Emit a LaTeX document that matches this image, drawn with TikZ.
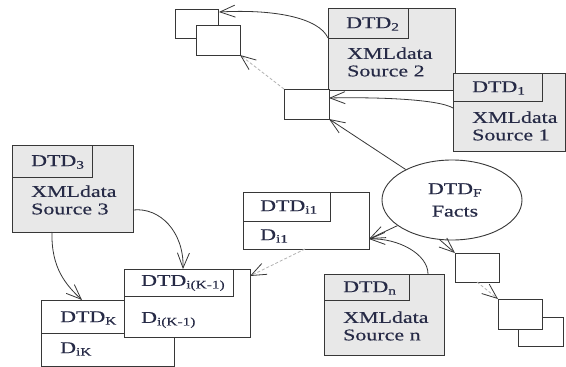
\documentclass[tikz,border=0pt]{standalone}
\usepackage{fontspec}
\setmainfont{Liberation Serif}[FakeStretch=1.33,FakeBold=0.35]
\usetikzlibrary{arrows.meta,shapes.geometric,calc}
\definecolor{linec}{RGB}{55,55,55}
\definecolor{srcfill}{RGB}{232,232,232}
\definecolor{inkc}{RGB}{38,42,70}
\definecolor{faint}{RGB}{178,178,178}
\newcommand\dsub[1]{\textsubscript{#1}}

\begin{document}
\begin{tikzpicture}[x=1pt,y=-1pt,
  frame/.style={draw=linec, line width=0.9pt, fill=white, anchor=north west,
                inner sep=0pt, outer sep=0pt},
  srcframe/.style={frame, fill=srcfill},
  txt/.style={text=inkc, anchor=west, inner sep=0pt, align=left,
              font=\fontsize{16.5}{17.5}\selectfont},
  tip/.style={-{Straight Barb[length=15pt,width=12pt,line width=0.8pt,color=linec]}},
  link/.style={draw=linec, line width=0.8pt, tip},
  faintlink/.style={draw=faint, line width=0.8pt, dash pattern=on 3pt off 2pt, tip},
]
\useasboundingbox (0,0) rectangle (566,367);
\fill[white] (0,0) rectangle (566,367);

% small stacked boxes, top left
\node[frame, minimum width=43pt, minimum height=29pt] (a) at (175,9) {};
\node[frame, minimum width=44pt, minimum height=30pt] (b) at (196,25) {};

% source 2
\node[srcframe, minimum width=127pt, minimum height=82pt] (s2) at (328,8) {};
\node[srcframe, minimum width=80pt, minimum height=30pt] (s2h) at (s2.north west) {};
\node[txt] (s2t) at (346,24) {DTD\dsub{2}};
\node[txt] (s2b) at (347,62) {XMLdata\\Source 2};

% intermediate box below source 2
\node[frame, minimum width=45pt, minimum height=30pt] (m) at (284,89) {};

% source 1
\node[srcframe, minimum width=112pt, minimum height=78pt] (s1) at (453,73) {};
\node[srcframe, minimum width=89pt, minimum height=28pt] (s1h) at (s1.north west) {};
\node[txt] (s1t) at (472,88) {DTD\dsub{1}};
\node[txt] (s1b) at (472,126) {XMLdata\\Source 1};

% source 3
\node[srcframe, minimum width=121pt, minimum height=87pt] (s3) at (12,145) {};
\node[srcframe, minimum width=80pt, minimum height=32pt] (s3h) at (s3.north west) {};
\node[txt] (s3t) at (31,162) {DTD\dsub{3}};
\node[txt] (s3b) at (31,200) {XMLdata\\Source 3};

% DTD i1
\node[frame, minimum width=126pt, minimum height=57pt] (i1) at (243,192) {};
\node[frame, minimum width=87pt, minimum height=29pt] (i1h) at (i1.north west) {};
\node[txt] (i1t) at (260,207) {DTD\dsub{i1}};
\node[txt] (i1b) at (260,236) {D\dsub{i1}};

% DTD K
\node[frame, minimum width=133pt, minimum height=66pt] (k) at (41,300) {};
\node[frame, minimum width=133pt, minimum height=33pt] (kh) at (k.north west) {};
\node[txt] (kt) at (60,318) {DTD\dsub{K}};
\node[txt] (kb) at (60,349) {D\dsub{iK}};

% DTD i(K-1)
\node[frame, minimum width=126pt, minimum height=68pt] (k1) at (124,269) {};
\node[frame, minimum width=109pt, minimum height=27pt] (k1h) at (k1.north west) {};
\node[txt] (k1t) at (141,283) {DTD\dsub{i(K-1)}};
\node[txt] (k1b) at (141,320) {D\dsub{i(K-1)}};

% source n
\node[srcframe, minimum width=120pt, minimum height=81pt] (sn) at (324,274) {};
\node[srcframe, minimum width=85pt, minimum height=26pt] (snh) at (sn.north west) {};
\node[txt] (snt) at (343,288) {DTD\dsub{n}};
\node[txt] (snb) at (343,326) {XMLdata\\Source n};

% facts
\node[ellipse, draw=linec, line width=0.9pt, fill=white, minimum width=140pt,
      minimum height=80pt, inner sep=0pt, text=inkc, align=center,
      font=\fontsize{16.5}{17.5}\selectfont] (ell) at (452,200)
      {\hspace*{6pt}DTD\dsub{F}\\[5pt]\hspace*{6pt}Facts};

% small stacked boxes, bottom right
\node[frame, minimum width=44pt, minimum height=29pt] (c) at (455,253) {};
\node[frame, minimum width=45pt, minimum height=29pt] (e) at (518,317) {};
\node[frame, minimum width=44pt, minimum height=30pt] (d) at (498,299) {};

% connector end points
\coordinate (aend) at ($(a.north east)+(1,3)$);
\coordinate (s1out) at ($(s1.north west)+(0,35)$);
\coordinate (min) at ($(m.north east)+(0,9)$);
\coordinate (i1in) at ($(i1.south east)+(0,-10)$);
\coordinate (snout) at ($(sn.north west)+(104,0)$);
\coordinate (i1out) at ($(i1.south west)+(62,0)$);
\coordinate (k1in) at ($(k1.north east)+(0,7)$);
\coordinate (cout) at ($(c.south west)+(22,0)$);
\coordinate (s3out) at ($(s3.north east)+(0,65)$);
\coordinate (k1top) at ($(k1.north west)+(59,0)$);
\coordinate (s3down) at ($(s3.south west)+(40,0)$);
\coordinate (ktop) at ($(k.north west)+(41,0)$);

% solid connectors
\draw[link] (s2h.south west) .. controls ($(s2h.south west)+(-9,-20)$)
      and ($(aend)+(56,-3)$) .. (aend);
\draw[link] (s1out) .. controls ($(s1out)+(-15,-9)$)
      and ($(min)+(46,-1)$) .. (min);
\draw[link] (ell) -- (m.south east);
\draw[link] (ell) -- (i1in);
\draw[link] (snout) .. controls ($(snout)+(0,-20)$)
      and ($(i1in)+(29,-1)$) .. (i1in);
\draw[link] (ell.253) -- (c.north west);
\draw[link] (s3out) .. controls ($(s3out)+(27,-3)$)
      and ($(k1top)+(1,-37)$) .. (k1top);
\draw[link] (s3down) .. controls ($(s3down)+(-1,36)$)
      and ($(ktop)+(-16,-15)$) .. (ktop);

% faint dashed connectors
\draw[faintlink] (m.north west) -- (b.south east);
\draw[faintlink] (i1out) -- (k1in);
\draw[faintlink] (cout) -- (d.north west);
\end{tikzpicture}
\end{document}
